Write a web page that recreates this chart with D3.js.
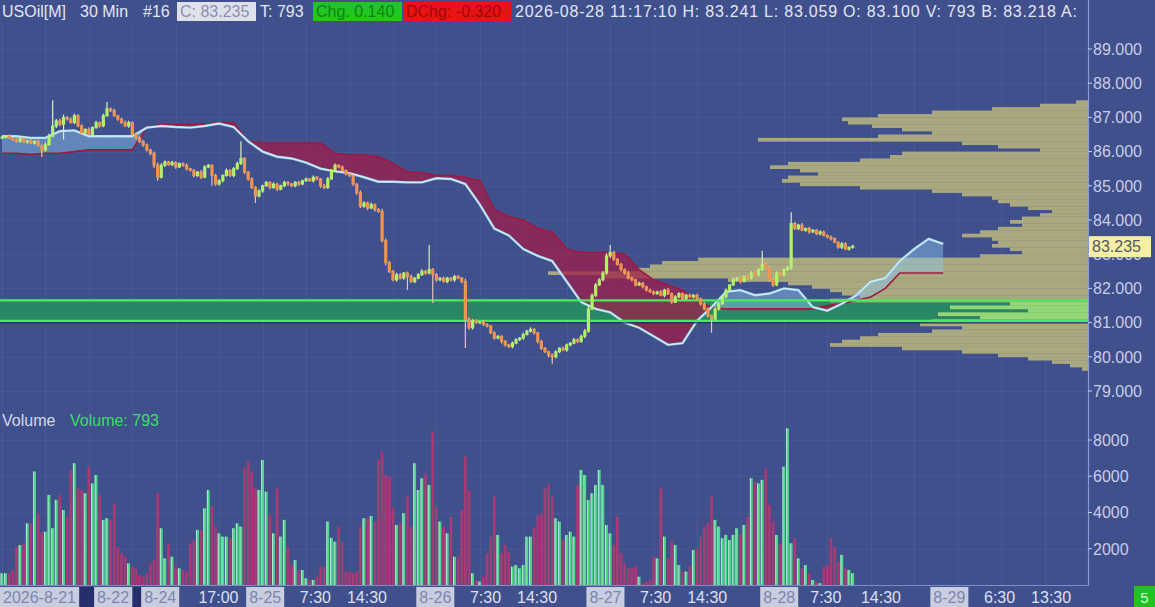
<!DOCTYPE html>
<html><head><meta charset="utf-8">
<script src="https://cdn.jsdelivr.net/npm/d3@7"></script>
<style>html,body{margin:0;padding:0;background:#40508c;overflow:hidden}svg{display:block;font-family:"Liberation Sans",Arial,sans-serif}</style>
</head><body><svg id="c" width="1155" height="607"></svg>
<script>
// ---------- DATA ----------
const firstOpen = 86.40;
const closes = [86.42,86.45,86.40,86.35,86.30,86.38,86.28,86.32,86.25,86.30,
86.18,86.05,86.20,86.45,86.75,86.90,86.80,87.00,86.95,86.85,
87.05,86.75,86.55,86.65,86.50,86.70,86.85,86.75,87.05,87.25,
87.20,87.05,86.95,86.85,86.75,86.85,86.50,86.40,86.30,86.20,
86.05,85.95,85.60,85.25,85.60,85.70,85.62,85.68,85.55,85.65,
85.60,85.50,85.45,85.30,85.40,85.25,85.55,85.60,85.30,85.05,
85.15,85.30,85.45,85.30,85.50,85.65,85.80,85.40,85.20,84.95,
84.70,84.85,85.00,85.10,84.95,85.05,84.90,85.00,85.10,85.05,
85.00,85.10,85.05,85.15,85.20,85.15,85.25,85.20,85.00,84.95,
85.20,85.45,85.60,85.55,85.45,85.35,85.30,85.05,84.80,84.40,
84.50,84.35,84.45,84.30,84.25,83.40,82.75,82.50,82.25,82.40,
82.30,82.45,82.35,82.20,82.30,82.40,82.50,82.45,82.55,82.40,
82.25,82.30,82.20,82.30,82.25,82.35,82.30,82.20,81.10,80.85,
81.05,81.00,81.02,80.95,80.90,80.70,80.55,80.60,80.45,80.35,
80.30,80.40,80.50,80.55,80.65,80.75,80.80,80.70,80.45,80.25,
80.15,80.05,80.00,80.15,80.25,80.20,80.35,80.40,80.50,80.45,
80.60,80.75,81.40,81.80,82.10,82.25,82.45,82.95,83.05,82.85,
82.70,82.55,82.45,82.30,82.25,82.10,82.15,82.05,81.95,81.90,
81.85,81.90,81.80,81.95,81.85,81.60,81.75,81.85,81.70,81.80,
81.75,81.80,81.70,81.55,81.40,81.20,81.10,81.40,81.55,81.75,
81.95,82.10,82.25,82.30,82.20,82.35,82.30,82.45,82.40,82.55,
82.70,82.60,82.25,82.10,82.45,82.40,82.55,82.60,83.90,83.75,
83.85,83.70,83.75,83.65,83.70,83.60,83.65,83.55,83.50,83.45,
83.35,83.20,83.30,83.15,83.20,83.235];
// wick extents in cents beyond the body
const upperWick = [4,3,5,2,4,3,5,3,4,3, 5,3,6,8,75,5,6,8,4,5, 6,4,5,3,6,4,5,3,6,20, 4,5,3,4,6,5,3,4,5,3,
4,3,5,8,6,4,3,5,4,3, 4,5,3,4,3,6,5,4,3,5, 4,3,6,4,5,6,50,4,3,5, 4,5,3,4,3,5,4,3,5,4,
3,4,5,3,4,3,5,4,3,5, 6,4,5,3,4,3,4,5,3,6, 5,4,6,3,5,8,6,5,4,6, 5,3,4,6,3,5,6,4,72,5,
4,3,5,4,3,5,4,3,8,6, 5,4,3,5,4,3,5,4,3,4, 3,5,4,3,5,4,6,4,3,5, 4,3,5,4,3,5,4,3,5,4,
5,6,8,5,6,5,6,8,22,5, 4,5,3,6,4,3,5,4,3,5, 4,3,5,4,6,3,5,4,3,4, 5,3,4,3,5,4,3,6,5,4,
5,3,6,4,5,3,4,5,6,4, 40,5,4,6,5,3,4,6,33,5, 4,6,3,5,4,3,5,4,3,5, 4,3,6,5,3,4];
const lowerWick = [3,4,3,5,3,4,3,5,3,4, 4,21,5,3,4,6,5,45,4,3, 5,4,6,3,5,4,3,5,4,3, 4,3,5,4,3,5,6,4,5,6,
5,6,8,10,4,5,3,4,5,3, 4,5,3,6,4,5,3,4,30,5, 4,5,3,4,5,3,4,6,5,4, 20,4,5,3,6,4,5,3,4,5,
3,4,5,3,4,3,5,4,6,5, 4,3,5,4,3,5,4,5,6,5, 4,6,3,5,4,6,8,5,4,5, 4,5,40,4,5,3,4,5,4,83,
5,4,3,5,4,6,3,5,84,6, 5,4,3,5,4,3,5,4,6,5, 4,5,3,4,5,3,4,5,6,5, 4,6,20,5,4,3,5,4,3,5,
4,6,5,4,5,3,4,5,6,4, 3,5,4,3,5,4,3,5,4,3, 5,4,3,6,4,5,3,4,5,3, 4,5,3,6,4,5,40,4,5,3,
4,5,3,4,6,3,5,4,3,5, 4,3,5,6,4,3,5,4,5,4, 5,3,4,5,3,4,5,3,4,5, 3,4,5,3,4,4];
const volumes = [650,650,650,830,2100,2200,2300,3400,3400,6260,
3950,2940,2940,4970,3130,4700,4970,4140,3770,6350,
6720,5330,5240,5060,6530,5610,6070,4970,3590,3680,
3590,4510,2100,1750,1560,1190,1010,920,550,460,
650,1190,1380,5060,3130,1470,2300,1560,1010,920,
830,740,2300,2480,3040,3040,4230,5240,4320,3220,
2850,2670,2670,2580,3130,3400,3220,6440,6810,6260,
5330,5240,6900,5150,3860,2850,5330,2670,3590,2100,
1100,1380,830,830,
370,280,280,460,1010,1010,3500,2600,2390,3220,
2390,740,740,650,740,3220,3680,3680,3810,3500,
6900,7360,6070,5980,4230,3310,3400,3960,4880,3220,
6720,5240,5890,6160,5520,8460,4320,3500,3220,2850,
3770,1560,1560,4140,7080,5240,650,280,190,460,
1750,2670,4880,2760,1750,2210,1840,1010,1100,920,
1100,2670,2670,3130,3860,3960,5340,5520,4880,3680,
3500,2480,2760,2940,2670,
5520,6350,6070,4690,5060,5520,6350,5520,3310,2850,
2210,3770,1750,1200,920,920,1010,460,90,180,
280,1560,1470,5340,2670,1470,2390,2210,1100,740,
740,1010,1930,2020,2670,3220,3400,4880,3590,3220,
2580,2760,2480,2760,3130,2850,3310,3770,5890,5700,
5610,5800,6440,4420,3500,2760,2300,6530,8640,2300,
2580,1470,920,1100,650,280,190,100,1010,1100,
2580,2120,1290,1660,920,830,650];
// cloud (every 4th bar, projected ahead)
const cloudIdx = d3.range(0, 261, 4);
const spanA = [86.45,86.45,86.40,86.40,86.60,86.62,86.45,86.45,86.45,86.45,
86.70,86.75,86.72,86.70,86.75,86.82,86.72,86.30,86.00,85.85,
85.80,85.68,85.50,85.42,85.37,85.25,85.12,85.12,85.10,85.10,
85.22,85.20,85.05,84.45,83.75,83.55,83.15,82.95,82.80,82.20,
81.60,81.40,81.30,81.00,80.85,80.60,80.35,80.40,81.05,81.45,
81.90,81.95,81.80,81.85,82.00,81.95,81.45,81.35,81.55,81.80,
82.20,82.30,82.80,83.15,83.45,83.30];
const spanB = [85.95,85.95,85.92,85.95,85.95,86.00,86.05,86.05,86.05,86.05,
86.72,86.80,86.80,86.80,86.80,86.85,86.85,86.30,86.25,86.25,
86.25,86.25,86.25,85.95,85.90,85.90,85.85,85.65,85.40,85.38,
85.30,85.30,85.25,85.15,84.30,84.10,84.00,83.75,83.65,83.15,
83.05,83.05,83.05,83.00,82.55,82.25,82.10,81.95,81.65,81.45,
81.40,81.40,81.40,81.40,81.40,81.40,81.40,81.50,81.55,81.65,
81.75,82.00,82.45,82.45,82.45,82.45];
// volume profile rows from 87.5 down to 79.7 (0.1 steps), relative volume 0-100
const profileTop = 87.5, profileStep = 0.1;
const profileVol = [2,8,16,26,35,41,40,36,31,26,35,55,21,15,8,31,33,38,50,53,
48,45,50,51,48,38,26,21,16,15,13,10,6,8,11,13,11,15,18,21,
16,15,16,13,11,18,65,71,73,75,90,81,60,50,46,43,41,38,43,13,
23,10,25,18,26,28,21,26,35,38,41,43,31,21,15,10,6,3,1];
const bandLow = 81.05, bandHigh = 81.65;
const lastPrice = 83.235;
const priceTicks = [79,80,81,82,83,84,85,86,87,88,89];
const volTicks = [2000,4000,6000,8000];
const timeTicks = [
 {label:"2026-8-21",i:0,date:true},{label:"8-22",i:26,date:true,gap:true},{label:"8-24",i:39,date:true,gap:true},
 {label:"17:00",i:54},{label:"8-25",i:68,date:true},{label:"7:30",i:82},{label:"14:30",i:95},
 {label:"8-26",i:115,date:true},{label:"7:30",i:129},{label:"14:30",i:142},
 {label:"8-27",i:162,date:true},{label:"7:30",i:176},{label:"14:30",i:189},
 {label:"8-28",i:210,date:true},{label:"7:30",i:223},{label:"14:30",i:237},
 {label:"8-29",i:257,date:true},{label:"6:30",i:271},{label:"13:30",i:284}];
const headerInfo = {symbol:"USOil[M]", period:"30 Min", num:"#16", close:"C: 83.235", ticks:"T: 793",
 chg:"Chg. 0.140", dchg:"DChg: -0.320", rest:"2026-08-28 11:17:10 H: 83.241 L: 83.059 O: 83.100 V: 793 B: 83.218 A:"};
const volumeLast = 793;

// ---------- DRAW ----------
const W=1155,H=607,AX=1088;
const BG="#40508c";
const svg=d3.select("#c");
const x=d3.scaleLinear().domain([0,300]).range([2,AX]);
const y=d3.scaleLinear().domain([79,89]).range([391,49]);
const yv=d3.scaleLinear().domain([0,8000]).range([585,440]);
const xp=d3.scaleLinear().domain([0,100]).range([AX,488]);

svg.append("rect").attr("width",W).attr("height",H).attr("fill",BG);

// grid
const grid=svg.append("g").attr("stroke","#485895").attr("stroke-width",1);
priceTicks.forEach(p=>grid.append("line").attr("x1",0).attr("x2",AX).attr("y1",Math.round(y(p))+.5).attr("y2",Math.round(y(p))+.5));
volTicks.forEach(v=>grid.append("line").attr("x1",0).attr("x2",AX).attr("y1",Math.round(yv(v))+.5).attr("y2",Math.round(yv(v))+.5));
d3.range(0,300,12).forEach(i=>grid.append("line").attr("x1",Math.round(x(i))+.5).attr("x2",Math.round(x(i))+.5).attr("y1",24).attr("y2",585));

// band fill
svg.append("rect").attr("x",0).attr("width",AX).attr("y",y(bandHigh)).attr("height",y(bandLow)-y(bandHigh)).attr("fill","#2a8766");

// volume profile
const prof=profileVol.map((v,k)=>({p:+(profileTop-k*profileStep).toFixed(2),v}));
svg.append("g").selectAll("rect").data(prof).join("rect")
 .attr("x",d=>xp(d.v)).attr("width",d=>AX-xp(d.v))
 .attr("y",d=>y(d.p)).attr("height",d=>y(d.p-profileStep)-y(d.p)+0.3)
 .attr("fill",d=>{const m=d.p-profileStep/2;return (m>bandLow&&m<bandHigh)?"#95d676":"#a9a87f";});

// cloud
const cloud=cloudIdx.map((i,k)=>({i,a:spanA[k],b:spanB[k]}));
svg.append("path").datum(cloud).attr("fill","rgba(140,200,240,0.45)")
 .attr("d",d3.area().x(d=>x(d.i)).y0(d=>y(d.b)).y1(d=>y(Math.max(d.a,d.b))));
svg.append("path").datum(cloud).attr("fill","rgba(160,28,72,0.72)")
 .attr("d",d3.area().x(d=>x(d.i)).y0(d=>y(d.a)).y1(d=>y(Math.max(d.a,d.b))));
svg.append("path").datum(cloud).attr("fill","none").attr("stroke","#a0183e").attr("stroke-width",1.6)
 .attr("d",d3.line().x(d=>x(d.i)).y(d=>y(d.b)));
svg.append("path").datum(cloud).attr("fill","none").attr("stroke","#9fd6f2").attr("stroke-width",2.4)
 .attr("d",d3.line().x(d=>x(d.i)).y(d=>y(d.a)));
svg.append("path").datum(cloud).attr("fill","none").attr("stroke","#e8f6ff").attr("stroke-width",0.8)
 .attr("d",d3.line().x(d=>x(d.i)).y(d=>y(d.a)));

// band edges
[bandHigh,bandLow].forEach(p=>{
 svg.append("line").attr("x1",0).attr("x2",AX).attr("y1",y(p)).attr("y2",y(p)).attr("stroke","#4ee85e").attr("stroke-width",2.2);
});
svg.append("line").attr("x1",0).attr("x2",AX).attr("y1",y(bandLow)+2).attr("y2",y(bandLow)+2).attr("stroke","#262c6a").attr("stroke-width",1.4);

// candles
const candles=closes.map((c,i)=>{const o=i===0?firstOpen:closes[i-1];
 return {i,o,c,h:Math.max(o,c)+upperWick[i]/100,l:Math.min(o,c)-lowerWick[i]/100,up:c>=o,v:volumes[i]};});
const cg=svg.append("g");
cg.selectAll("line").data(candles).join("line")
 .attr("x1",d=>x(d.i)).attr("x2",d=>x(d.i)).attr("y1",d=>y(d.h)).attr("y2",d=>y(d.l))
 .attr("stroke",d=>d.up?"#d8eec0":"#e8c4b0").attr("stroke-width",1.2);
cg.selectAll("rect").data(candles).join("rect")
 .attr("x",d=>x(d.i)-1.6).attr("width",3.2)
 .attr("y",d=>y(Math.max(d.o,d.c))-0.5).attr("height",d=>Math.max(2,y(Math.min(d.o,d.c))-y(Math.max(d.o,d.c))+1))
 .attr("fill",d=>d.up?"#b2f264":"#f0944e");

// volume bars
const vg=svg.append("g");
vg.selectAll("rect").data(candles).join("rect")
 .attr("x",d=>x(d.i)-1.4).attr("width",2.8)
 .attr("y",d=>yv(d.v)).attr("height",d=>yv(0)-yv(d.v))
 .attr("fill",d=>d.up?"#4fd48c":"#a53a74");
vg.selectAll("line").data(candles.filter(d=>d.up)).join("line")
 .attr("x1",d=>x(d.i)-1).attr("x2",d=>x(d.i)-1).attr("y1",d=>yv(d.v)).attr("y2",yv(0))
 .attr("stroke","#c6f2de").attr("stroke-width",0.8);

// frame
svg.append("line").attr("x1",0).attr("x2",AX).attr("y1",585.5).attr("y2",585.5).attr("stroke","#7e8cca");
svg.append("line").attr("x1",AX+.5).attr("x2",AX+.5).attr("y1",0).attr("y2",586).attr("stroke","#8797d4").attr("stroke-width",1.2);

// price axis
const ax=svg.append("g").attr("font-size",16).attr("fill","#c8cce8");
priceTicks.forEach(p=>{
 ax.append("line").attr("x1",AX).attr("x2",AX+4).attr("y1",y(p)).attr("y2",y(p)).attr("stroke","#c8cce8");
 ax.append("text").attr("x",AX+5).attr("y",y(p)).attr("dy","0.36em").text(p.toFixed(3));
});
volTicks.forEach(v=>{
 ax.append("line").attr("x1",AX).attr("x2",AX+4).attr("y1",yv(v)).attr("y2",yv(v)).attr("stroke","#c8cce8");
 ax.append("text").attr("x",AX+5).attr("y",yv(v)).attr("dy","0.36em").text(v);
});
// last price label
svg.append("rect").attr("x",AX+1).attr("y",y(lastPrice)-10).attr("width",62).attr("height",21).attr("fill","#f4efa4");
svg.append("text").attr("x",AX+4).attr("y",y(lastPrice)).attr("dy","0.36em").attr("font-size",16).attr("fill","#55566a").text(lastPrice.toFixed(3));

// time axis
const tg=svg.append("g").attr("font-size",16);
let prevEnd=0;
timeTicks.forEach(t=>{
 const tx=x(t.i);
 if(t.gap) tg.append("rect").attr("x",prevEnd+1).attr("y",587).attr("width",tx-prevEnd-3).attr("height",20).attr("fill","#262f6c");
 if(t.date){
  const r=tg.append("rect").attr("x",tx-2).attr("y",587).attr("height",20).attr("fill","#c9cde0");
  const tt=tg.append("text").attr("x",tx+1).attr("y",603).attr("fill","#7d86ae").text(t.label);
  const w=tt.node().getComputedTextLength();
  r.attr("width",w+6); prevEnd=tx+w+4;
 } else {
  const tt=tg.append("text").attr("x",tx+1).attr("y",603).attr("fill","#dde0f2").text(t.label);
  prevEnd=tx+tt.node().getComputedTextLength()+2;
 }
});
svg.append("rect").attr("x",1134).attr("y",586).attr("width",21).attr("height",21).attr("fill","#22c222");
svg.append("text").attr("x",1144.5).attr("y",603).attr("text-anchor","middle").attr("font-size",15).attr("fill","#d8ffd8").text("5");

// volume title
svg.append("text").attr("x",2).attr("y",426).attr("font-size",16).attr("fill","#d4d8ec").text("Volume");
svg.append("text").attr("x",70).attr("y",426).attr("font-size",16).attr("fill","#3ddc6a").text("Volume: "+volumeLast);

// header
const hg=svg.append("g").attr("font-size",16);
hg.append("text").attr("x",2).attr("y",17).attr("fill","#e4e6f2").text(headerInfo.symbol);
hg.append("text").attr("x",80).attr("y",17).attr("fill","#e4e6f2").text(headerInfo.period);
hg.append("text").attr("x",143).attr("y",17).attr("fill","#e4e6f2").text(headerInfo.num);
hg.append("rect").attr("x",177).attr("y",2).attr("width",79).attr("height",19).attr("fill","#dfe1ea");
hg.append("text").attr("x",180).attr("y",17).attr("fill","#8a90b0").text(headerInfo.close);
hg.append("text").attr("x",260).attr("y",17).attr("fill","#e4e6f2").text(headerInfo.ticks);
hg.append("rect").attr("x",313).attr("y",2).attr("width",89).attr("height",19).attr("fill","#22c622");
hg.append("text").attr("x",316).attr("y",17).attr("fill","#0f840f").text(headerInfo.chg);
hg.append("rect").attr("x",404).attr("y",2).attr("width",107).attr("height",19).attr("fill","#e81414");
hg.append("text").attr("x",406).attr("y",17).attr("fill","#a20606").text(headerInfo.dchg);
hg.append("text").attr("x",515).attr("y",17).attr("fill","#e4e6f2").attr("textLength",562).attr("lengthAdjust","spacing").text(headerInfo.rest);
</script></body></html>
